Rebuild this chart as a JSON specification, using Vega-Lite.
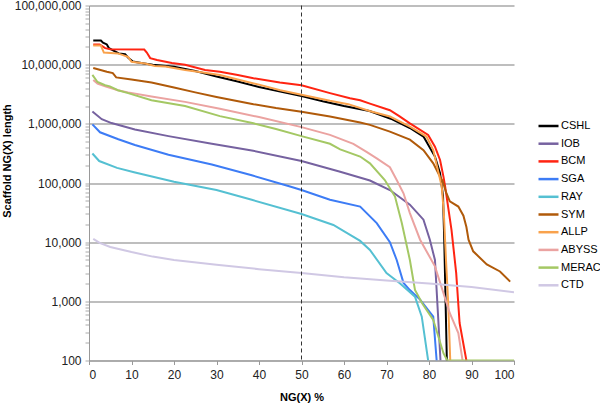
{
  "$schema": "https://vega.github.io/schema/vega-lite/v6.json",
  "width": 425,
  "height": 355,
  "autosize": {"type": "none"},
  "padding": {"left": 89, "top": 5.5, "right": 86, "bottom": 43.5},
  "background": "white",
  "config": {"view": {"stroke": null}, "font": "Liberation Sans"},
  "datasets": {
    "series": [
      {"s":"CSHL","x":1,"y":25500000},{"s":"CSHL","x":2.8,"y":25500000},{"s":"CSHL","x":3.3,"y":23500000},{"s":"CSHL","x":4.2,"y":22000000},{"s":"CSHL","x":4.7,"y":19000000},{"s":"CSHL","x":6,"y":17000000},{"s":"CSHL","x":7,"y":15500000},{"s":"CSHL","x":8.5,"y":15000000},{"s":"CSHL","x":9.3,"y":13000000},{"s":"CSHL","x":10.3,"y":11300000},{"s":"CSHL","x":13,"y":10500000},{"s":"CSHL","x":15,"y":10000000},{"s":"CSHL","x":20,"y":9200000},{"s":"CSHL","x":25,"y":7800000},{"s":"CSHL","x":30,"y":6300000},{"s":"CSHL","x":35,"y":5200000},{"s":"CSHL","x":40,"y":4200000},{"s":"CSHL","x":45,"y":3500000},{"s":"CSHL","x":50,"y":2950000},{"s":"CSHL","x":55,"y":2400000},{"s":"CSHL","x":60,"y":2000000},{"s":"CSHL","x":66,"y":1650000},{"s":"CSHL","x":71,"y":1220000},{"s":"CSHL","x":75.5,"y":850000},{"s":"CSHL","x":78.7,"y":610000},{"s":"CSHL","x":81.4,"y":280000},{"s":"CSHL","x":82.6,"y":147000},{"s":"CSHL","x":83.3,"y":60000},{"s":"CSHL","x":83.6,"y":10000},{"s":"CSHL","x":83.9,"y":1000},{"s":"CSHL","x":84.2,"y":100},

      {"s":"IOB","x":0.8,"y":1620000},{"s":"IOB","x":3,"y":1200000},{"s":"IOB","x":5.3,"y":1030000},{"s":"IOB","x":10.8,"y":800000},{"s":"IOB","x":18.7,"y":620000},{"s":"IOB","x":28.9,"y":460000},{"s":"IOB","x":38.3,"y":355000},{"s":"IOB","x":50,"y":235000},{"s":"IOB","x":59.1,"y":155000},{"s":"IOB","x":66.1,"y":110000},{"s":"IOB","x":70.8,"y":76000},{"s":"IOB","x":75.5,"y":43000},{"s":"IOB","x":78.7,"y":24000},{"s":"IOB","x":80.2,"y":11000},{"s":"IOB","x":81.4,"y":5000},{"s":"IOB","x":82.1,"y":630},{"s":"IOB","x":82.7,"y":100},

      {"s":"BCM","x":1,"y":22000000},{"s":"BCM","x":2.5,"y":22000000},{"s":"BCM","x":3.8,"y":19000000},{"s":"BCM","x":5,"y":18300000},{"s":"BCM","x":13,"y":18000000},{"s":"BCM","x":13.6,"y":16000000},{"s":"BCM","x":14.4,"y":12900000},{"s":"BCM","x":16,"y":12000000},{"s":"BCM","x":19.5,"y":10700000},{"s":"BCM","x":22.6,"y":10000000},{"s":"BCM","x":27.3,"y":8100000},{"s":"BCM","x":30.8,"y":7600000},{"s":"BCM","x":35,"y":6700000},{"s":"BCM","x":38.7,"y":5900000},{"s":"BCM","x":44.9,"y":5000000},{"s":"BCM","x":50,"y":4500000},{"s":"BCM","x":56.7,"y":3300000},{"s":"BCM","x":61.4,"y":2700000},{"s":"BCM","x":63.8,"y":2500000},{"s":"BCM","x":66.1,"y":2200000},{"s":"BCM","x":70.8,"y":1700000},{"s":"BCM","x":73,"y":1350000},{"s":"BCM","x":75.5,"y":1020000},{"s":"BCM","x":79.8,"y":650000},{"s":"BCM","x":81.4,"y":410000},{"s":"BCM","x":82.6,"y":245000},{"s":"BCM","x":83.4,"y":128000},{"s":"BCM","x":83.8,"y":87000},{"s":"BCM","x":85.3,"y":16000},{"s":"BCM","x":86.4,"y":3000},{"s":"BCM","x":87.2,"y":430},{"s":"BCM","x":88.8,"y":100},

      {"s":"SGA","x":0.8,"y":980000},{"s":"SGA","x":2.6,"y":720000},{"s":"SGA","x":6.9,"y":550000},{"s":"SGA","x":10.8,"y":440000},{"s":"SGA","x":18.7,"y":300000},{"s":"SGA","x":28.9,"y":205000},{"s":"SGA","x":38.3,"y":135000},{"s":"SGA","x":47.3,"y":87000},{"s":"SGA","x":50,"y":76000},{"s":"SGA","x":56.7,"y":52000},{"s":"SGA","x":63.8,"y":40000},{"s":"SGA","x":67.7,"y":21000},{"s":"SGA","x":70.8,"y":10000},{"s":"SGA","x":72.4,"y":5000},{"s":"SGA","x":74,"y":2050},{"s":"SGA","x":75.5,"y":1550},{"s":"SGA","x":77.9,"y":1070},{"s":"SGA","x":81,"y":550},{"s":"SGA","x":81.8,"y":100},

      {"s":"RAY","x":0.8,"y":315000},{"s":"RAY","x":2.4,"y":235000},{"s":"RAY","x":6.6,"y":180000},{"s":"RAY","x":10.6,"y":152000},{"s":"RAY","x":20,"y":105000},{"s":"RAY","x":30,"y":76000},{"s":"RAY","x":38.3,"y":52000},{"s":"RAY","x":50,"y":30000},{"s":"RAY","x":57.5,"y":19500},{"s":"RAY","x":63.8,"y":10500},{"s":"RAY","x":66.1,"y":7400},{"s":"RAY","x":70,"y":3000},{"s":"RAY","x":73.2,"y":2000},{"s":"RAY","x":76.7,"y":1200},{"s":"RAY","x":78.3,"y":550},{"s":"RAY","x":79.8,"y":100},

      {"s":"SYM","x":1,"y":8800000},{"s":"SYM","x":4.2,"y":7600000},{"s":"SYM","x":5.6,"y":7200000},{"s":"SYM","x":6.4,"y":6100000},{"s":"SYM","x":10,"y":5600000},{"s":"SYM","x":14.7,"y":5000000},{"s":"SYM","x":20,"y":4100000},{"s":"SYM","x":25,"y":3400000},{"s":"SYM","x":30,"y":2850000},{"s":"SYM","x":38.7,"y":2150000},{"s":"SYM","x":44,"y":1850000},{"s":"SYM","x":50,"y":1600000},{"s":"SYM","x":56.7,"y":1330000},{"s":"SYM","x":63.8,"y":1050000},{"s":"SYM","x":66.1,"y":960000},{"s":"SYM","x":70.8,"y":740000},{"s":"SYM","x":75.5,"y":540000},{"s":"SYM","x":78.7,"y":360000},{"s":"SYM","x":81,"y":215000},{"s":"SYM","x":82.6,"y":128000},{"s":"SYM","x":83.2,"y":108000},{"s":"SYM","x":84,"y":70000},{"s":"SYM","x":84.9,"y":49000},{"s":"SYM","x":86.9,"y":40000},{"s":"SYM","x":88.1,"y":28000},{"s":"SYM","x":88.8,"y":18000},{"s":"SYM","x":89.3,"y":11000},{"s":"SYM","x":90.4,"y":7000},{"s":"SYM","x":93.6,"y":4200},{"s":"SYM","x":96.7,"y":3200},{"s":"SYM","x":99.1,"y":2150},

      {"s":"ALLP","x":1,"y":21000000},{"s":"ALLP","x":2.8,"y":21000000},{"s":"ALLP","x":3.5,"y":16000000},{"s":"ALLP","x":6.8,"y":15500000},{"s":"ALLP","x":8,"y":14500000},{"s":"ALLP","x":9.2,"y":13500000},{"s":"ALLP","x":10,"y":11200000},{"s":"ALLP","x":13.2,"y":10500000},{"s":"ALLP","x":15.5,"y":9500000},{"s":"ALLP","x":18,"y":9300000},{"s":"ALLP","x":22.6,"y":8100000},{"s":"ALLP","x":26,"y":7500000},{"s":"ALLP","x":30.8,"y":6700000},{"s":"ALLP","x":35,"y":5600000},{"s":"ALLP","x":40,"y":4600000},{"s":"ALLP","x":45,"y":3700000},{"s":"ALLP","x":50,"y":3100000},{"s":"ALLP","x":56.7,"y":2450000},{"s":"ALLP","x":61,"y":2150000},{"s":"ALLP","x":66,"y":1650000},{"s":"ALLP","x":70.8,"y":1330000},{"s":"ALLP","x":75.5,"y":900000},{"s":"ALLP","x":79.4,"y":610000},{"s":"ALLP","x":81,"y":360000},{"s":"ALLP","x":82.1,"y":165000},{"s":"ALLP","x":83,"y":87000},{"s":"ALLP","x":83.5,"y":30000},{"s":"ALLP","x":84,"y":5000},{"s":"ALLP","x":84.5,"y":1000},{"s":"ALLP","x":85,"y":100},

      {"s":"ABYSS","x":1,"y":5500000},{"s":"ABYSS","x":2,"y":4800000},{"s":"ABYSS","x":3.8,"y":4300000},{"s":"ABYSS","x":6.8,"y":3700000},{"s":"ABYSS","x":9.2,"y":3400000},{"s":"ABYSS","x":14.7,"y":2900000},{"s":"ABYSS","x":22.6,"y":2350000},{"s":"ABYSS","x":30.8,"y":1800000},{"s":"ABYSS","x":40,"y":1300000},{"s":"ABYSS","x":50,"y":880000},{"s":"ABYSS","x":56.7,"y":650000},{"s":"ABYSS","x":62.2,"y":460000},{"s":"ABYSS","x":65.3,"y":335000},{"s":"ABYSS","x":67.7,"y":260000},{"s":"ABYSS","x":70.8,"y":185000},{"s":"ABYSS","x":72.4,"y":112000},{"s":"ABYSS","x":74,"y":67000},{"s":"ABYSS","x":75.5,"y":31000},{"s":"ABYSS","x":77.9,"y":11000},{"s":"ABYSS","x":81.4,"y":3900},{"s":"ABYSS","x":84.9,"y":630},{"s":"ABYSS","x":86.9,"y":290},{"s":"ABYSS","x":87.9,"y":100},

      {"s":"MERAC","x":0.8,"y":6700000},{"s":"MERAC","x":2,"y":5100000},{"s":"MERAC","x":3.8,"y":4500000},{"s":"MERAC","x":4.9,"y":4300000},{"s":"MERAC","x":6.8,"y":3700000},{"s":"MERAC","x":9.2,"y":3300000},{"s":"MERAC","x":14.7,"y":2500000},{"s":"MERAC","x":22.6,"y":2000000},{"s":"MERAC","x":30.8,"y":1350000},{"s":"MERAC","x":38.7,"y":1020000},{"s":"MERAC","x":44,"y":820000},{"s":"MERAC","x":50,"y":620000},{"s":"MERAC","x":56.7,"y":460000},{"s":"MERAC","x":59.1,"y":370000},{"s":"MERAC","x":63.8,"y":280000},{"s":"MERAC","x":66.1,"y":215000},{"s":"MERAC","x":69.6,"y":112000},{"s":"MERAC","x":72,"y":59000},{"s":"MERAC","x":73.6,"y":21000},{"s":"MERAC","x":75.5,"y":5000},{"s":"MERAC","x":76.7,"y":1560},{"s":"MERAC","x":78.5,"y":900},{"s":"MERAC","x":81,"y":487},{"s":"MERAC","x":83.4,"y":133},{"s":"MERAC","x":84.3,"y":100},{"s":"MERAC","x":100,"y":100},

      {"s":"CTD","x":1,"y":11400},{"s":"CTD","x":2.5,"y":9700},{"s":"CTD","x":5,"y":8300},{"s":"CTD","x":10,"y":6800},{"s":"CTD","x":15,"y":5700},{"s":"CTD","x":20,"y":5000},{"s":"CTD","x":30,"y":4150},{"s":"CTD","x":40,"y":3500},{"s":"CTD","x":50,"y":3000},{"s":"CTD","x":60,"y":2550},{"s":"CTD","x":70,"y":2250},{"s":"CTD","x":80,"y":2000},{"s":"CTD","x":90,"y":1750},{"s":"CTD","x":100,"y":1420}
    ]
  },
  "layer": [
    {
      "data": {"name": "series"},
      "mark": {"type": "line", "strokeWidth": 2, "clip": true},
      "encoding": {
        "x": {
          "field": "x", "type": "quantitative",
          "scale": {"domain": [0, 100], "nice": false, "zero": false},
          "axis": {
            "values": [0,10,20,30,40,50,60,70,80,90,100],
            "grid": false,
            "domainColor": "#999999", "domainWidth": 1,
            "tickColor": "#999999", "tickSize": 4,
            "labelFontSize": 12, "labelColor": "#222222", "labelPadding": 5,
            "title": "NG(X) %", "titleFontSize": 11, "titleFontWeight": "bold", "titleColor": "#000000",
            "titleY": 40, "titleBaseline": "alphabetic"
          }
        },
        "y": {
          "field": "y", "type": "quantitative",
          "scale": {"type": "log", "domain": [100, 100000000], "nice": false},
          "axis": {
            "values": [100,200,300,400,500,600,700,800,900,1000,2000,3000,4000,5000,6000,7000,8000,9000,10000,20000,30000,40000,50000,60000,70000,80000,90000,100000,200000,300000,400000,500000,600000,700000,800000,900000,1000000,2000000,3000000,4000000,5000000,6000000,7000000,8000000,9000000,10000000,20000000,30000000,40000000,50000000,60000000,70000000,80000000,90000000,100000000],
            "labelExpr": "indexof([100,1000,10000,100000,1000000,10000000,100000000], datum.value) >= 0 ? format(datum.value, ',') : ''",
            "grid": true,
            "gridColor": "#a8a8a8", "gridWidth": 1.5,
            "gridOpacity": {"condition": {"test": "indexof([100,1000,10000,100000,1000000,10000000,100000000], datum.value) >= 0", "value": 1}, "value": 0},
            "domainColor": "#999999", "domainWidth": 1,
            "tickColor": "#aaaaaa", "tickSize": 4,
            "labelFontSize": 12, "labelColor": "#222222", "labelPadding": 4,
            "labelOverlap": false,
            "title": "Scaffold NG(X) length", "titleFontSize": 11, "titleFontWeight": "bold", "titleColor": "#000000",
            "titleX": -78.5, "titleY": 155, "titleBaseline": "alphabetic", "titleAngle": -90
          }
        },
        "color": {
          "field": "s", "type": "nominal",
          "scale": {
            "domain": ["CSHL","IOB","BCM","SGA","RAY","SYM","ALLP","ABYSS","MERAC","CTD"],
            "range": ["#000000","#7662a0","#ff2412","#3d7cf5","#55c0d2","#b05a0a","#f9a24c","#eba3a1","#a4c864","#d0c8e4"]
          },
          "legend": {
            "title": null, "orient": "none", "legendX": 448, "legendY": 109,
            "symbolType": "stroke", "symbolSize": 400, "symbolStrokeWidth": 2.5,
            "labelFontSize": 11, "labelColor": "#000000", "labelOffset": 1,
            "rowPadding": 0.7, "padding": 0
          }
        }
      }
    },
    {
      "data": {"values": [{"x": 50}]},
      "mark": {"type": "rule", "strokeDash": [4, 3], "color": "#333333", "strokeWidth": 1},
      "encoding": {"x": {"field": "x", "type": "quantitative"}}
    }
  ]
}
